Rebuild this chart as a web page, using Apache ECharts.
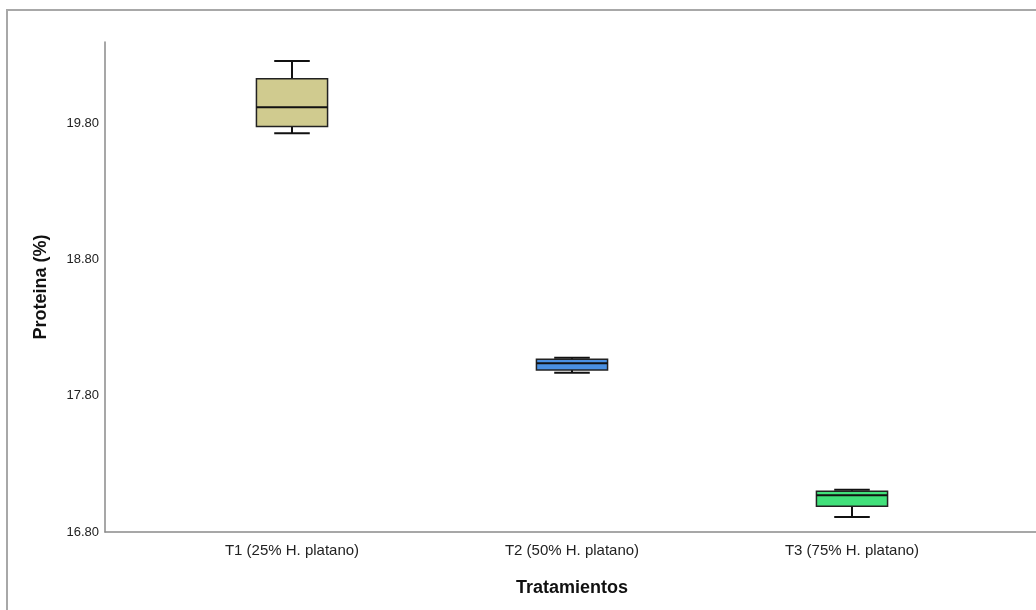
<!DOCTYPE html>
<html>
<head>
<meta charset="utf-8">
<script src="https://cdn.jsdelivr.net/npm/echarts@6/dist/echarts.min.js"></script>
<style>
  html, body { margin: 0; padding: 0; background: #fff; }
  #chart { width: 1036px; height: 610px; }
</style>
</head>
<body>
<div id="chart"></div>
<script>
// Treatments and five-number summaries of protein content (%)
const categories = ['T1 (25% H. platano)', 'T2 (50% H. platano)', 'T3 (75% H. platano)'];
const minimum = [19.73, 17.97, 16.91];
const lowerQuartile = [19.78, 17.99, 16.99];
const median = [19.92, 18.04, 17.07];
const upperQuartile = [20.13, 18.07, 17.10];
const maximum = [20.26, 18.08, 17.11];
const boxColors = ['#d0cb8f', '#4a90e2', '#41e07a'];

const yMin = 16.8, yMax = 20.4, yStep = 1;

const boxData = categories.map((c, i) => [i, minimum[i], lowerQuartile[i], median[i], upperQuartile[i], maximum[i]]);

const chart = echarts.init(document.getElementById('chart'), null, { renderer: 'canvas' });

// Box with whiskers whose end caps are half the box width
function renderBox(params, api) {
  const idx = api.value(0);
  const pMin = api.coord([idx, api.value(1)]);
  const pQ1 = api.coord([idx, api.value(2)]);
  const pMed = api.coord([idx, api.value(3)]);
  const pQ3 = api.coord([idx, api.value(4)]);
  const pMax = api.coord([idx, api.value(5)]);
  const band = api.size([1, 0])[0];
  const halfBox = band * 0.127;
  const halfCap = halfBox * 0.5;
  const x = pMed[0];
  const lineStyle = { stroke: '#111', lineWidth: 2 };
  return {
    type: 'group',
    children: [
      { type: 'line', shape: { x1: x, y1: pMax[1], x2: x, y2: pQ3[1] }, style: lineStyle },
      { type: 'line', shape: { x1: x, y1: pQ1[1], x2: x, y2: pMin[1] }, style: lineStyle },
      { type: 'line', shape: { x1: x - halfCap, y1: pMax[1], x2: x + halfCap, y2: pMax[1] }, style: lineStyle },
      { type: 'line', shape: { x1: x - halfCap, y1: pMin[1], x2: x + halfCap, y2: pMin[1] }, style: lineStyle },
      {
        type: 'rect',
        shape: { x: x - halfBox, y: pQ3[1], width: halfBox * 2, height: pQ1[1] - pQ3[1] },
        style: { fill: boxColors[idx], stroke: '#222', lineWidth: 1.5 }
      },
      { type: 'line', shape: { x1: x - halfBox, y1: pMed[1], x2: x + halfBox, y2: pMed[1] }, style: lineStyle }
    ]
  };
}

const option = {
  backgroundColor: '#ffffff',
  animation: false,
  textStyle: { fontFamily: 'Liberation Sans, Arial, sans-serif' },
  graphic: [
    {
      type: 'rect',
      shape: { x: 7, y: 10, width: 1060, height: 640 },
      style: { fill: 'none', stroke: '#a8a8a8', lineWidth: 2 },
      silent: true
    }
  ],
  grid: [
    { left: 105, right: 0, top: 42, bottom: 78 },
    { left: 152, right: 44, top: 42, bottom: 78 }
  ],
  xAxis: [
    {
      gridIndex: 0,
      type: 'value',
      min: 0,
      max: 1,
      axisLine: { show: true, lineStyle: { color: '#8a8a8a', width: 1.5 } },
      axisTick: { show: false },
      axisLabel: { show: false },
      splitLine: { show: false }
    },
    {
      gridIndex: 1,
      type: 'category',
      data: categories,
      boundaryGap: true,
      axisLine: { show: false },
      axisTick: { show: false },
      splitLine: { show: false },
      axisLabel: { color: '#222', fontSize: 15, margin: 11 },
      name: 'Tratamientos',
      nameLocation: 'middle',
      nameGap: 47,
      nameTextStyle: { color: '#111', fontSize: 18, fontWeight: 'bold' }
    }
  ],
  yAxis: [
    {
      gridIndex: 0,
      type: 'value',
      min: yMin,
      max: yMax,
      interval: yStep,
      axisLine: { show: true, lineStyle: { color: '#8a8a8a', width: 1.5 } },
      axisTick: { show: false },
      splitLine: { show: false },
      axisLabel: {
        color: '#222',
        fontSize: 13,
        margin: 6,
        showMaxLabel: false,
        formatter: v => v.toFixed(2)
      },
      name: 'Proteina (%)',
      nameLocation: 'middle',
      nameGap: 55,
      nameTextStyle: { color: '#111', fontSize: 18, fontWeight: 'bold' }
    },
    {
      gridIndex: 1,
      type: 'value',
      min: yMin,
      max: yMax,
      show: false
    }
  ],
  series: [
    {
      type: 'custom',
      xAxisIndex: 1,
      yAxisIndex: 1,
      renderItem: renderBox,
      encode: { x: 0, y: [1, 2, 3, 4, 5] },
      data: boxData
    }
  ]
};

chart.setOption(option);
</script>
</body>
</html>
